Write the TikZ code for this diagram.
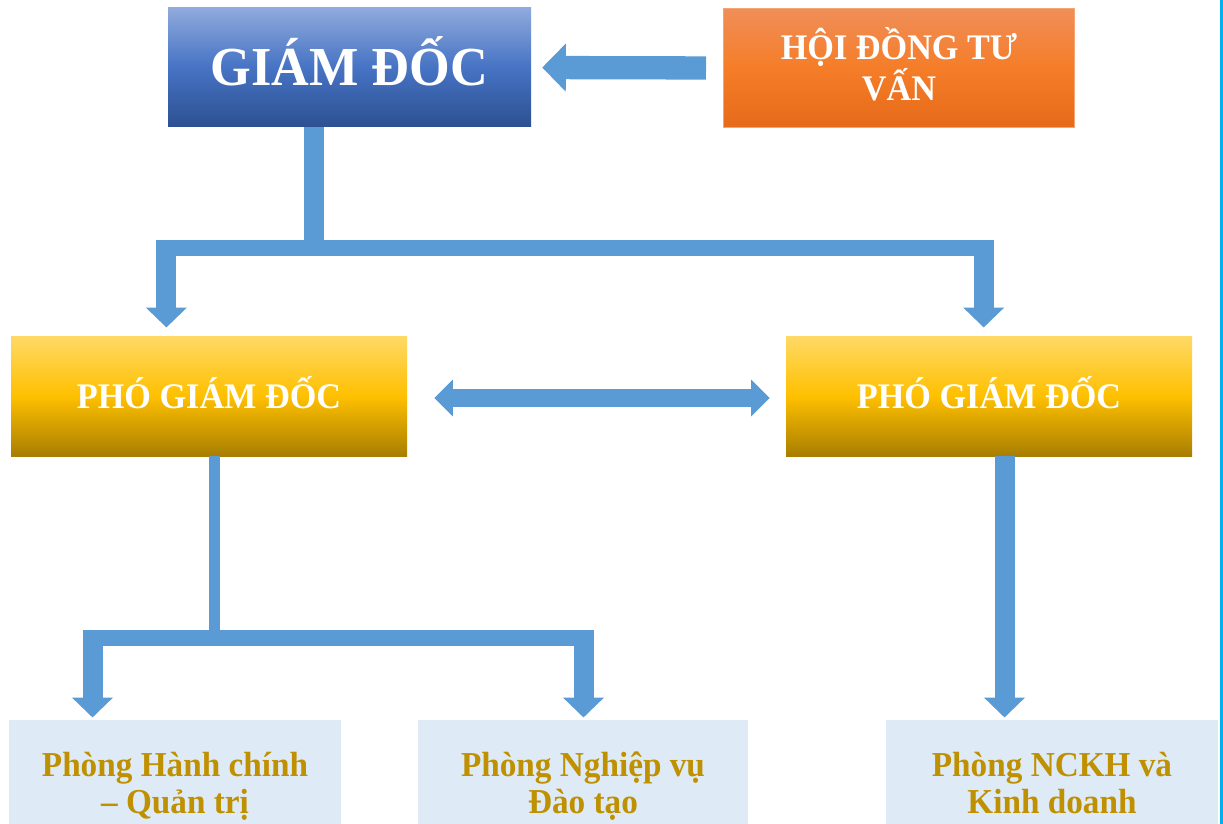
\documentclass[tikz,border=0pt]{standalone}
\usepackage{fontspec}
\setmainfont{Liberation Serif}[FakeStretch=0.95]
\usetikzlibrary{arrows.meta}
\definecolor{arrowblue}{RGB}{91,155,213}
\definecolor{gdtop}{RGB}{143,170,220}
\definecolor{gdmid}{RGB}{70,115,196}
\definecolor{gdbot}{RGB}{45,80,145}
\definecolor{hdtop}{RGB}{240,142,88}
\definecolor{hdmid}{RGB}{245,125,40}
\definecolor{hdbot}{RGB}{230,106,26}
\definecolor{hdline}{RGB}{244,165,115}
\definecolor{pgdtop}{RGB}{255,217,102}
\definecolor{pgdmid}{RGB}{255,192,0}
\definecolor{pgdbot}{RGB}{168,126,0}
\definecolor{roomfill}{RGB}{222,235,247}
\definecolor{roomtext}{RGB}{191,144,0}
\definecolor{edgecyan}{RGB}{0,176,240}

\begin{document}
\begin{tikzpicture}[x=1pt, y=-1pt]
    \tikzstyle{box}=[rectangle, inner sep=0pt, align=center]
    \tikzstyle{pgdbox}=[box, minimum width=396pt, minimum height=120pt, top color=pgdtop, bottom color=pgdbot, middle color=pgdmid, text=white, font=\fontsize{36}{41}\selectfont\bfseries, text height=24pt, text depth=0pt]
    \tikzstyle{roombox}=[box, minimum width=332pt, minimum height=126pt, fill=roomfill, text=roomtext, font=\fontsize{35}{37}\selectfont\bfseries, text height=60.5pt, text depth=0pt]
    \tikzstyle{vbar}=[arrowblue, line width=20pt]
    \tikzstyle{hbar}=[arrowblue, line width=16pt]
    \tikzstyle{down}=[vbar, -{Triangle[width=40pt,length=20pt]}]
    \useasboundingbox (0,0) rectangle (1223,824);
    \clip (0,0) rectangle (1223,824);
    \node [box, minimum width=363pt, minimum height=119pt, top color=gdtop, bottom color=gdbot, middle color=gdmid, text=white, font=\fontsize{55}{60}\selectfont\bfseries, text height=37pt, text depth=0pt] (gd) at (349.5,67.5) {GIÁM ĐỐC};
    \node [box, minimum width=351pt, minimum height=119pt, top color=hdtop, bottom color=hdbot, middle color=hdmid, draw=hdline, line width=1pt, text=white, font=\fontsize{36}{41}\selectfont\bfseries, text height=65pt, text depth=0pt] (hdtv) at (899,68) {HỘI ĐỒNG TƯ\\VẤN};
    \node [pgdbox] (pgd1) at (209,396) {PHÓ GIÁM ĐỐC};
    \node [pgdbox, minimum width=406pt] (pgd2) at (989,396) {PHÓ GIÁM ĐỐC};
    \node [roombox] (phc) at (175,783) {Phòng Hành chính\\– Quản trị};
    \node [roombox, minimum width=330pt] (pnv) at (583,783) {Phòng Nghiệp vụ\\Đào tạo};
    \node [roombox] (pnckh) at (1052,783) {Phòng NCKH và\\Kinh doanh};
    \coordinate (j1) at (314,248);
    \coordinate (d1) at (166.4,240);
    \coordinate (d2) at (983.7,240);
    \coordinate (j2) at (214.5,638);
    \coordinate (d3) at (92.5,630);
    \coordinate (d4) at (583.5,630);
    \draw [arrowblue, line width=23.3pt, -{Triangle[width=46.7pt,length=23.6pt]}, shorten <=17pt, shorten >=11pt] (hdtv.west) -- (gd.east);
    \draw [vbar] (gd.south -| j1) -- (j1);
    \draw [hbar] ([xshift=-10pt]d1 |- j1) -- ([xshift=10pt]d2 |- j1);
    \draw [down, shorten >=8.3pt] (d1) -- (d1 |- pgd1.north);
    \draw [down, shorten >=8.3pt] (d2) -- (d2 |- pgd2.north);
    \draw [arrowblue, line width=18.7pt, {Triangle[width=35.7pt,length=18.7pt]}-{Triangle[width=35.7pt,length=18.7pt]}, shorten <=27pt, shorten >=16pt] ([yshift=-2pt]pgd1.east) -- ([yshift=-2pt]pgd2.west);
    \draw [vbar, line width=11pt] (pgd1.south -| j2) -- (j2);
    \draw [hbar] ([xshift=-10pt]d3 |- j2) -- ([xshift=10.5pt]d4 |- j2);
    \draw [down, shorten >=2.3pt] (d3) -- (d3 |- phc.north);
    \draw [down, shorten >=2.3pt] (d4) -- (d4 |- pnv.north);
    \draw [down, shorten >=2.3pt] ([xshift=15.5pt]pgd2.south) -- ([xshift=15.5pt]pgd2.south |- pnckh.north);
    \draw [edgecyan, line width=3pt] (1221.5,0) -- (1221.5,824);
\end{tikzpicture}
\end{document}
